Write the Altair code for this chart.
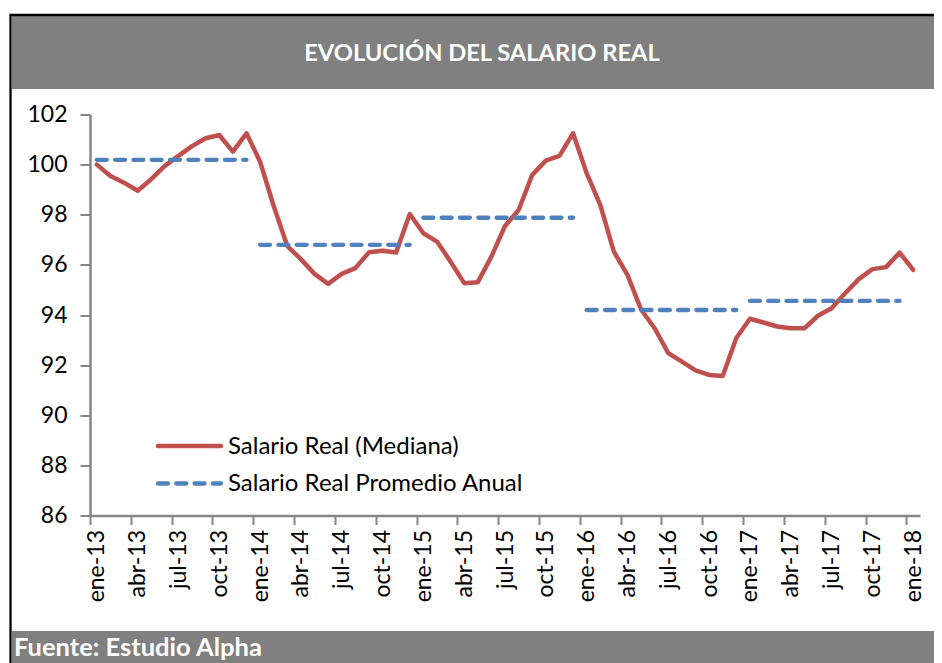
import altair as alt
import pandas as pd

# ---- data ----
SALARIO = [
    100.00, 99.55, 99.28, 98.96, 99.42, 99.95, 100.35, 100.74, 101.05, 101.18, 100.52, 101.25,  # 2013
    100.12, 98.35, 96.75, 96.23, 95.64, 95.24, 95.64, 95.87, 96.50, 96.56, 96.49, 98.03,       # 2014
    97.26, 96.93, 96.13, 95.27, 95.31, 96.33, 97.55, 98.19, 99.59, 100.16, 100.35, 101.25,     # 2015
    99.66, 98.39, 96.53, 95.60, 94.22, 93.47, 92.48, 92.14, 91.79, 91.61, 91.57, 93.08,        # 2016
    93.85, 93.70, 93.54, 93.47, 93.47, 93.97, 94.27, 94.87, 95.43, 95.83, 95.91, 96.49,        # 2017
    95.80,                                                                                     # ene-18
]
PROMEDIO_ANUAL = [100.19, 96.80, 97.88, 94.20, 94.56]
YEARS = [2013, 2014, 2015, 2016, 2017]
TICK_LABELS = [
    "ene-13", "abr-13", "jul-13", "oct-13",
    "ene-14", "abr-14", "jul-14", "oct-14",
    "ene-15", "abr-15", "jul-15", "oct-15",
    "ene-16", "abr-16", "jul-16", "oct-16",
    "ene-17", "abr-17", "jul-17", "oct-17",
    "ene-18",
]
Y_TICKS = [86, 88, 90, 92, 94, 96, 98, 100, 102]
SERIES = ["Salario Real (Mediana)", "Salario Real Promedio Anual"]
TITLE = "EVOLUCIÓN DEL SALARIO REAL"
SOURCE = "Fuente: Estudio Alpha"

RED = "#C0504D"
BLUE = "#4F81BD"
GRAY = "#808080"
AXIS_GRAY = "#868686"
FONT = "Lato"

W, H = 830, 401

sal_df = pd.DataFrame({"i": list(range(len(SALARIO))), "v": SALARIO})
avg_rows = []
for k, (yr, val) in enumerate(zip(YEARS, PROMEDIO_ANUAL)):
    for m in range(12):
        avg_rows.append({"i": 12 * k + m, "v": val, "year": yr})
avg_df = pd.DataFrame(avg_rows)

tick_vals = [3 * k - 0.5 for k in range(len(TICK_LABELS))]
label_expr = "[" + ",".join(f"'{l}'" for l in TICK_LABELS) + "][round((datum.value + 0.5) / 3)]"

x_enc = alt.X(
    "i:Q",
    scale=alt.Scale(domain=[-0.5, len(SALARIO) - 0.5], nice=False, zero=False),
    axis=alt.Axis(
        values=tick_vals, labelExpr=label_expr, labelAngle=-90, labelOffset=W / 61 / 2,
        labelFont=FONT, labelFontSize=23, labelColor="black", labelPadding=5,
        tickSize=9, tickColor=AXIS_GRAY, tickWidth=2,
        domainColor=AXIS_GRAY, domainWidth=2.5, grid=False, title=None,
    ),
)
y_enc = alt.Y(
    "v:Q",
    scale=alt.Scale(domain=[86, 102], nice=False, zero=False),
    axis=alt.Axis(
        values=Y_TICKS, labelFont=FONT, labelFontSize=23, labelColor="black",
        labelPadding=13, tickSize=10, tickColor=AXIS_GRAY, tickWidth=2,
        domainColor=AXIS_GRAY, domainWidth=2.5, grid=False, title=None,
    ),
)

one = pd.DataFrame({"a": [0]})

frame = alt.Chart(one).mark_rect(fill=None, stroke="black", strokeWidth=2.3).encode(
    x=alt.value(-79.5), x2=alt.value(W + 60), y=alt.value(-99.5), y2=alt.value(H + 200)
)
title_band = alt.Chart(one).mark_rect(color=GRAY).encode(
    x=alt.value(-78), x2=alt.value(W + 60), y=alt.value(-98.5), y2=alt.value(-25.5)
)
title_text = alt.Chart(one).mark_text(
    text=TITLE, font=FONT, fontSize=23.7, fontWeight="bold", color="white",
    align="center", baseline="alphabetic",
).encode(x=alt.value(392), y=alt.value(-54))
foot_band = alt.Chart(one).mark_rect(color=GRAY).encode(
    x=alt.value(-78), x2=alt.value(W + 60), y=alt.value(516.5), y2=alt.value(H + 200)
)
foot_text = alt.Chart(one).mark_text(
    text=SOURCE, font=FONT, fontSize=25.5, fontWeight="bold", color="white",
    align="left", baseline="alphabetic",
).encode(x=alt.value(-76), y=alt.value(541.5))

red_line = alt.Chart(sal_df).mark_line(
    color=RED, strokeWidth=4.5, strokeJoin="round", strokeCap="round"
).encode(x=x_enc, y=y_enc)
blue_line = alt.Chart(avg_df).mark_line(
    color=BLUE, strokeWidth=4.3, strokeDash=[10, 8.3], strokeCap="round"
).encode(x="i:Q", y="v:Q", detail="year:N")

leg_red = alt.Chart(one).mark_rule(color=RED, strokeWidth=4.5, strokeCap="round").encode(
    x=alt.value(68), x2=alt.value(131), y=alt.value(331.5)
)
leg_blue = alt.Chart(one).mark_rule(
    color=BLUE, strokeWidth=4.3, strokeDash=[10, 8.3], strokeCap="round"
).encode(x=alt.value(68), x2=alt.value(131), y=alt.value(369))
leg_t1 = alt.Chart(one).mark_text(
    text=SERIES[0], font=FONT, fontSize=24, color="black", align="left", baseline="middle"
).encode(x=alt.value(138), y=alt.value(332))
leg_t2 = alt.Chart(one).mark_text(
    text=SERIES[1], font=FONT, fontSize=24, color="black", align="left", baseline="middle"
).encode(x=alt.value(138), y=alt.value(369.5))

chart = alt.layer(
    title_band, foot_band, frame, title_text, foot_text,
    red_line, blue_line, leg_red, leg_blue, leg_t1, leg_t2,
).properties(
    width=W, height=H,
    autosize=alt.AutoSizeParams(type="none"),
    padding={"left": 82, "top": 106.5, "right": 14, "bottom": 147.5},
    background="white",
).configure_view(strokeWidth=0)

chart.save("out.html", embed_options={"renderer": "svg", "actions": False})
